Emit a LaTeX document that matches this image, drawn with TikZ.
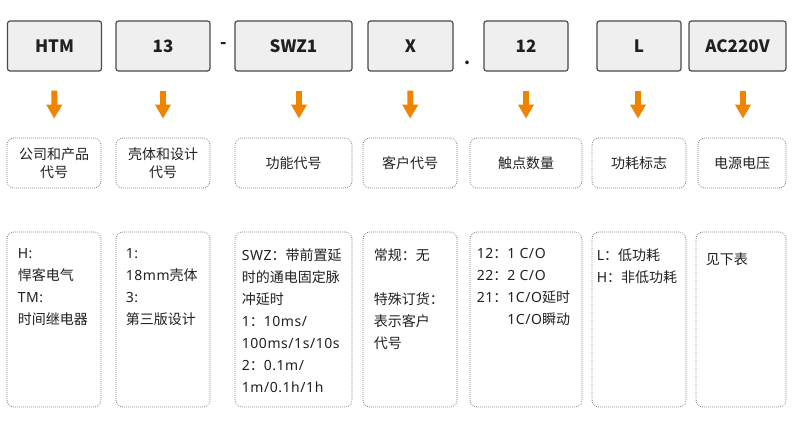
\documentclass[tikz,border=0pt]{standalone}
\usepackage{fontspec}
\setmainfont{Noto Sans CJK SC}
\newfontfamily\latinfont[LetterSpace=4]{Noto Sans}
\newcommand{\en}[1]{{\latinfont #1}}
\usepackage{xcolor}
\usetikzlibrary{arrows.meta}
\definecolor{codeFill}{HTML}{EEEFEE}
\definecolor{codeLine}{HTML}{4A4A4A}
\definecolor{dotLine}{HTML}{808080}
\definecolor{arrowOrange}{HTML}{F08300}
\definecolor{textDark}{HTML}{231F20}
\tikzset{%
  codebox/.style={rectangle, rounded corners=2.5pt, draw=codeLine, fill=codeFill, line width=1.2pt, minimum height=50pt, text=textDark, font=\fontsize{17}{20}\selectfont\bfseries},% code part
  namebox/.style={rectangle, rounded corners=7pt, draw=dotLine, line width=0.8pt, dash pattern=on 0.8pt off 1.2pt, minimum height=50pt, align=center, text=textDark, font=\fontsize{14}{18}\selectfont},% meaning of the part
  infobox/.style={rectangle, rounded corners=7pt, draw=dotLine, line width=0.8pt, dash pattern=on 0.8pt off 1.2pt, minimum height=175pt},% values of the part
  infotext/.style={anchor=north west, inner sep=0pt, align=left, text=textDark, font=\fontsize{14}{22}\selectfont, execute at begin node=\strut},
  sepmark/.style={text=textDark, font=\fontsize{17}{20}\selectfont\bfseries, inner sep=0pt},
  downarrow/.style={draw=arrowOrange, line width=6pt, -{Triangle[length=14pt,width=15pt]}, shorten <=19pt, shorten >=19pt}
}
\begin{document}
\begin{tikzpicture}[x=1pt,y=-1pt]
        \useasboundingbox (0,0) rectangle (794,420);
        %Nodes
        \node[codebox,minimum width=94pt] (htm) at (54.5,46) {HTM};
        \node[codebox,minimum width=94pt] (shell) at (163,46) {13};
        \node[sepmark] (dashSep) at (223.5,46) {-};
        \node[codebox,minimum width=117pt] (func) at (293.5,46) {SWZ1};
        \node[codebox,minimum width=85pt] (cust) at (410.5,46) {X};
        \node[sepmark] (dotSep) at (467,63) {.};
        \node[codebox,minimum width=84pt] (contact) at (526,46) {12};
        \node[codebox,minimum width=84pt] (power) at (639,46) {L};
        \node[codebox,minimum width=97pt] (volt) at (737.5,46) {AC220V};

        \node[namebox,minimum width=94pt] (htmName) at (54,163) {公司和产品\\代号};
        \node[namebox,minimum width=94pt] (shellName) at (163,163) {壳体和设计\\代号};
        \node[namebox,minimum width=117pt] (funcName) at (293.5,163) {功能代号};
        \node[namebox,minimum width=94pt] (custName) at (410,163) {客户代号};
        \node[namebox,minimum width=112pt] (contactName) at (526,163) {触点数量};
        \node[namebox,minimum width=94pt] (powerName) at (639,163) {功耗标志};
        \node[namebox,minimum width=88pt] (voltName) at (742,163) {电源电压};

        \node[infobox,minimum width=94pt] (htmInfo) at (54,319.5) {};
        \node[infobox,minimum width=94pt] (shellInfo) at (163,319.5) {};
        \node[infobox,minimum width=117pt] (funcInfo) at (293.5,319.5) {};
        \node[infobox,minimum width=94pt] (custInfo) at (410,319.5) {};
        \node[infobox,minimum width=112pt] (contactInfo) at (526,319.5) {};
        \node[infobox,minimum width=94pt] (powerInfo) at (639,319.5) {};
        \node[infobox,minimum width=90pt] (voltInfo) at (741,319.5) {};

        \node[infotext] (htmText) at ([shift={(11pt,-17pt)}]htmInfo.north west) {\en{H:}\\悍客电气\\\en{TM:}\\时间继电器};
        \node[infotext] (shellText) at ([shift={(10pt,-17pt)}]shellInfo.north west) {\en{1:}\\\en{18mm}壳体\\\en{3:}\\第三版设计};
        \node[infotext] (funcText) at ([shift={(7pt,-17pt)}]funcInfo.north west) {\en{SWZ}：带前置延\\时的通电固定脉\\冲延时\\\en{1}：\en{10ms/}\\\en{100ms/1s/10s}\\\en{2}：\en{0.1m/}\\\en{1m/0.1h/1h}};
        \node[infotext] (custText) at ([shift={(11pt,-17pt)}]custInfo.north west) {常规：无\\[22pt]特殊订货：\\表示客户\\代号};
        \node[infotext] (contactText) at ([shift={(7pt,-17pt)}]contactInfo.north west) {\en{12}：\en{1 C/O}\\\en{22}：\en{2 C/O}\\\en{21}：\en{1C/O}延时\\\phantom{\en{21}：}\en{1C/O}瞬动};
        \node[infotext] (powerText) at ([shift={(5pt,-17pt)}]powerInfo.north west) {\en{L}：低功耗\\\en{H}：非低功耗};
        \node[infotext] (voltText) at ([shift={(10pt,-17pt)}]voltInfo.north west) {见下表};

        %Lines
        \draw[downarrow] (htm) -- (htmName);
        \draw[downarrow] (shell) -- (shellName);
        \draw[downarrow] ([xshift=5.5pt]func.south) -- ([xshift=5.5pt]funcName.north);
        \draw[downarrow] (cust.south) -- (custName.north);
        \draw[downarrow] (contact) -- (contactName);
        \draw[downarrow] ([xshift=-1pt]power.south) -- ([xshift=-1pt]powerName.north);
        \draw[downarrow] ([xshift=5.5pt]volt.south) -- ([xshift=1pt]voltName.north);
    \end{tikzpicture}
\end{document}
